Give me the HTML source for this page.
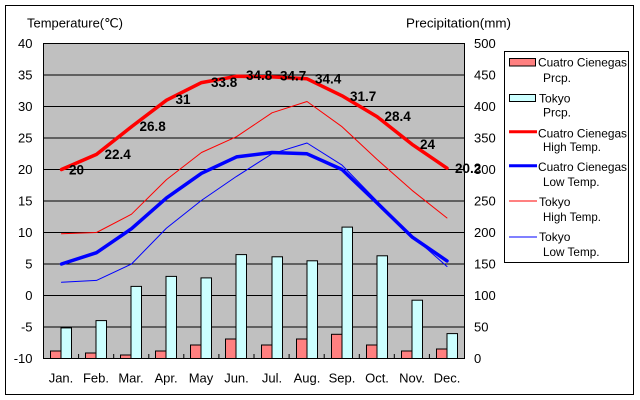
<!DOCTYPE html>
<html><head><meta charset="utf-8"><style>
html,body{margin:0;padding:0;background:#fff;}
svg{display:block;font-family:"Liberation Sans",sans-serif;}
</style></head><body>
<svg width="640" height="400" viewBox="0 0 640 400" xmlns="http://www.w3.org/2000/svg">
<rect x="0" y="0" width="640" height="400" fill="#fff"/>
<rect x="5.5" y="5.5" width="628" height="389" fill="#fff" stroke="#000" stroke-width="1"/>
<!-- plot area -->
<rect x="43.5" y="43.5" width="421" height="315" fill="#c0c0c0"/>
<g stroke="#000" stroke-width="1">
<line x1="43.5" y1="75" x2="464.5" y2="75"/>
<line x1="43.5" y1="106.5" x2="464.5" y2="106.5"/>
<line x1="43.5" y1="138" x2="464.5" y2="138"/>
<line x1="43.5" y1="169.5" x2="464.5" y2="169.5"/>
<line x1="43.5" y1="201" x2="464.5" y2="201"/>
<line x1="43.5" y1="232.5" x2="464.5" y2="232.5"/>
<line x1="43.5" y1="264" x2="464.5" y2="264"/>
<line x1="43.5" y1="295.5" x2="464.5" y2="295.5"/>
<line x1="43.5" y1="327" x2="464.5" y2="327"/>
</g>
<!-- bars -->
<g stroke="#000" stroke-width="1">
<rect x="50.5" y="351" width="10.5" height="7.5" fill="#ff8080"/>
<rect x="61" y="327.9" width="10.5" height="30.6" fill="#ccffff"/>
<rect x="85.5" y="353" width="10.5" height="5.5" fill="#ff8080"/>
<rect x="96" y="320.6" width="10.5" height="37.9" fill="#ccffff"/>
<rect x="120.5" y="355" width="10.5" height="3.5" fill="#ff8080"/>
<rect x="131" y="286.4" width="10.5" height="72.1" fill="#ccffff"/>
<rect x="155.5" y="351" width="10.5" height="7.5" fill="#ff8080"/>
<rect x="166" y="276.4" width="10.5" height="82.1" fill="#ccffff"/>
<rect x="190.5" y="345" width="10.5" height="13.5" fill="#ff8080"/>
<rect x="201" y="277.9" width="10.5" height="80.6" fill="#ccffff"/>
<rect x="225.5" y="339" width="10.5" height="19.5" fill="#ff8080"/>
<rect x="236" y="254.6" width="10.5" height="103.9" fill="#ccffff"/>
<rect x="261.5" y="345" width="10.5" height="13.5" fill="#ff8080"/>
<rect x="272" y="256.8" width="10.5" height="101.7" fill="#ccffff"/>
<rect x="296.5" y="339" width="10.5" height="19.5" fill="#ff8080"/>
<rect x="307" y="260.8" width="10.5" height="97.7" fill="#ccffff"/>
<rect x="331.5" y="334.3" width="10.5" height="24.2" fill="#ff8080"/>
<rect x="342" y="227.1" width="10.5" height="131.4" fill="#ccffff"/>
<rect x="366.5" y="345" width="10.5" height="13.5" fill="#ff8080"/>
<rect x="377" y="255.8" width="10.5" height="102.7" fill="#ccffff"/>
<rect x="401.5" y="351" width="10.5" height="7.5" fill="#ff8080"/>
<rect x="412" y="300.2" width="10.5" height="58.3" fill="#ccffff"/>
<rect x="436.5" y="349" width="10.5" height="9.5" fill="#ff8080"/>
<rect x="447" y="333.6" width="10.5" height="24.9" fill="#ccffff"/>
</g>
<!-- plot border and ticks -->
<rect x="43.5" y="43.5" width="421" height="315" fill="none" stroke="#000" stroke-width="1"/>
<g stroke="#000" stroke-width="1">
<line x1="78.6" y1="354" x2="78.6" y2="358.5"/>
<line x1="113.7" y1="354" x2="113.7" y2="358.5"/>
<line x1="148.8" y1="354" x2="148.8" y2="358.5"/>
<line x1="183.8" y1="354" x2="183.8" y2="358.5"/>
<line x1="218.9" y1="354" x2="218.9" y2="358.5"/>
<line x1="254" y1="354" x2="254" y2="358.5"/>
<line x1="289.1" y1="354" x2="289.1" y2="358.5"/>
<line x1="324.2" y1="354" x2="324.2" y2="358.5"/>
<line x1="359.3" y1="354" x2="359.3" y2="358.5"/>
<line x1="394.3" y1="354" x2="394.3" y2="358.5"/>
<line x1="429.4" y1="354" x2="429.4" y2="358.5"/>
</g>
<!-- lines -->
<g fill="none" stroke-linejoin="round" stroke-linecap="round">
<polyline stroke="#ff0000" stroke-width="3.5" points="61.5,169.5 96.5,154.4 131.5,126.7 166.5,100.2 201.5,82.6 236.5,76.3 272,76.9 307,78.8 342,95.8 377,116.6 412,144.3 447,168.2"/>
<polyline stroke="#0000ff" stroke-width="3.5" points="61.5,264 96.5,252.7 131.5,228.7 166.5,197.9 201.5,173.3 236.5,156.9 272,152.5 307,153.8 342,169.5 377,202.9 412,236.9 447,260.9"/>
<polyline stroke="#ff0000" stroke-width="1" points="61.5,233.8 96.5,232.5 131.5,214.2 166.5,179.6 201.5,152.5 236.5,136.7 272,112.8 307,101.5 342,126.7 377,159.4 412,190.3 447,218"/>
<polyline stroke="#0000ff" stroke-width="1" points="61.5,282.3 96.5,280.4 131.5,264 166.5,228.1 201.5,200.4 236.5,176.4 272,153.8 307,143 342,165.1 377,201 412,235.7 447,266.5"/>
</g>
<!-- data labels -->
<g font-size="13.5" font-weight="bold" fill="#000">
<text x="69" y="174.5">20</text>
<text x="104.5" y="159">22.4</text>
<text x="139.5" y="131">26.8</text>
<text x="175.5" y="104">31</text>
<text x="211" y="87">33.8</text>
<text x="246" y="80">34.8</text>
<text x="280" y="80.5">34.7</text>
<text x="315" y="83.5">34.4</text>
<text x="350" y="101">31.7</text>
<text x="384.5" y="121">28.4</text>
<text x="420" y="149">24</text>
<text x="455" y="173">20.2</text>
</g>
<!-- axis tick labels -->
<g font-size="13" fill="#000" text-anchor="end">
<text x="32.5" y="48">40</text>
<text x="32.5" y="79.5">35</text>
<text x="32.5" y="111">30</text>
<text x="32.5" y="142.5">25</text>
<text x="32.5" y="174">20</text>
<text x="32.5" y="205.5">15</text>
<text x="32.5" y="237">10</text>
<text x="32.5" y="268.5">5</text>
<text x="32.5" y="300">0</text>
<text x="32.5" y="331.5">-5</text>
<text x="32.5" y="363">-10</text>
</g>
<g font-size="13" fill="#000">
<text x="474" y="48">500</text>
<text x="474" y="79.5">450</text>
<text x="474" y="111">400</text>
<text x="474" y="142.5">350</text>
<text x="474" y="174">300</text>
<text x="474" y="205.5">250</text>
<text x="474" y="237">200</text>
<text x="474" y="268.5">150</text>
<text x="474" y="300">100</text>
<text x="474" y="331.5">50</text>
<text x="474" y="363">0</text>
</g>
<g font-size="13" fill="#000" text-anchor="middle">
<text x="61" y="382.5">Jan.</text>
<text x="96" y="382.5">Feb.</text>
<text x="131" y="382.5">Mar.</text>
<text x="166" y="382.5">Apr.</text>
<text x="201" y="382.5">May</text>
<text x="236.5" y="382.5">Jun.</text>
<text x="272" y="382.5">Jul.</text>
<text x="307" y="382.5">Aug.</text>
<text x="342" y="382.5">Sep.</text>
<text x="377" y="382.5">Oct.</text>
<text x="412" y="382.5">Nov.</text>
<text x="447" y="382.5">Dec.</text>
</g>
<text x="27" y="27.5" font-size="13" textLength="96" lengthAdjust="spacingAndGlyphs">Temperature(℃)</text>
<text x="406" y="27.5" font-size="13" textLength="105" lengthAdjust="spacingAndGlyphs">Precipitation(mm)</text>
<!-- legend -->
<rect x="504.5" y="51.5" width="124" height="211" fill="#fff" stroke="#000" stroke-width="1"/>
<rect x="509.5" y="58.5" width="26" height="7.5" fill="#ff8080" stroke="#000" stroke-width="1"/>
<rect x="509.5" y="94.5" width="26" height="7" fill="#ccffff" stroke="#000" stroke-width="1"/>
<line x1="509" y1="131.7" x2="537" y2="131.7" stroke="#ff0000" stroke-width="3"/>
<line x1="509" y1="165.7" x2="537" y2="165.7" stroke="#0000ff" stroke-width="3"/>
<line x1="509" y1="201" x2="537" y2="201" stroke="#ff0000" stroke-width="1"/>
<line x1="509" y1="237" x2="537" y2="237" stroke="#0000ff" stroke-width="1"/>
<g font-size="12" fill="#000">
<text x="538" y="66.5" textLength="89" lengthAdjust="spacingAndGlyphs">Cuatro Cienegas</text>
<text x="543" y="82" textLength="28" lengthAdjust="spacingAndGlyphs">Prcp.</text>
<text x="539" y="102.5" textLength="31.5" lengthAdjust="spacingAndGlyphs">Tokyo</text>
<text x="543" y="116.7" textLength="28" lengthAdjust="spacingAndGlyphs">Prcp.</text>
<text x="538" y="137.5" textLength="89" lengthAdjust="spacingAndGlyphs">Cuatro Cienegas</text>
<text x="543" y="151" textLength="58" lengthAdjust="spacingAndGlyphs">High Temp.</text>
<text x="538" y="171" textLength="89" lengthAdjust="spacingAndGlyphs">Cuatro Cienegas</text>
<text x="543" y="186" textLength="56.5" lengthAdjust="spacingAndGlyphs">Low Temp.</text>
<text x="539" y="206" textLength="31.5" lengthAdjust="spacingAndGlyphs">Tokyo</text>
<text x="543" y="221" textLength="58" lengthAdjust="spacingAndGlyphs">High Temp.</text>
<text x="539" y="241" textLength="31.5" lengthAdjust="spacingAndGlyphs">Tokyo</text>
<text x="543" y="256" textLength="56.5" lengthAdjust="spacingAndGlyphs">Low Temp.</text>
</g>
</svg>
</body></html>
